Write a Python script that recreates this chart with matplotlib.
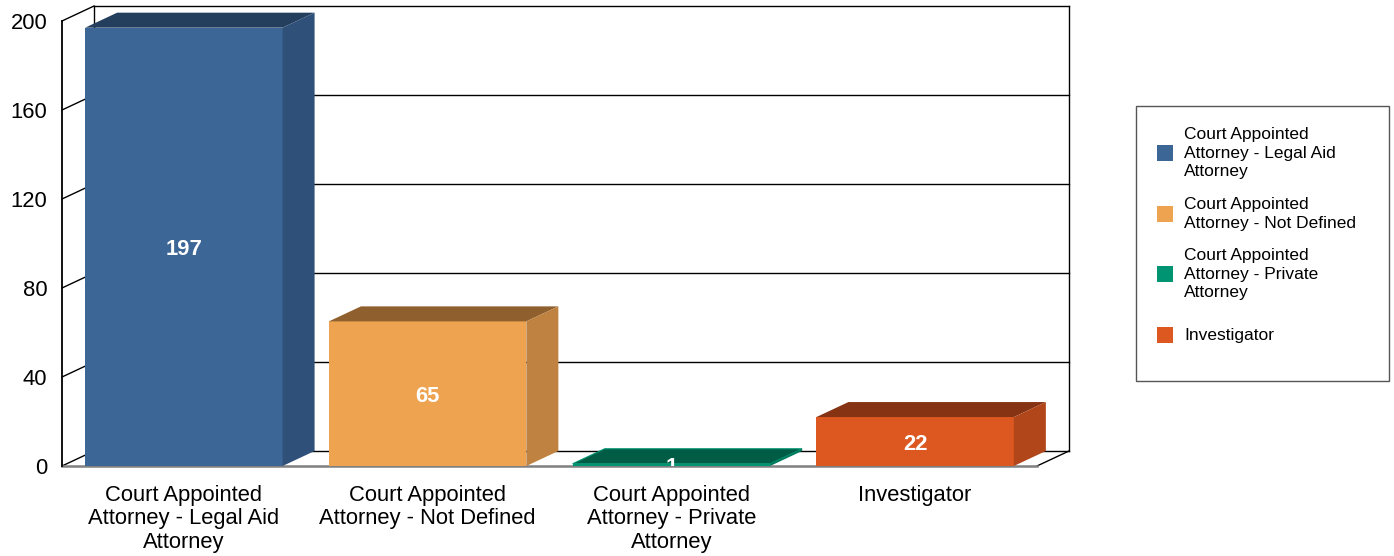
import matplotlib
matplotlib.use("Agg")
import matplotlib.pyplot as plt
from matplotlib.patches import Polygon, Rectangle

# ---- data ----
categories = ["Court Appointed\nAttorney - Legal Aid\nAttorney",
              "Court Appointed\nAttorney - Not Defined",
              "Court Appointed\nAttorney - Private\nAttorney",
              "Investigator"]
values = [197, 65, 1, 22]
front_colors = ["#3b6696", "#eea351", "#009472", "#dc5820"]
top_colors = ["#243e5e", "#8f602d", "#005c44", "#863314"]
side_colors = ["#2f5179", "#bf8240", "#007a5c", "#b0461a"]
y_ticks = [0, 40, 80, 120, 160, 200]

plt.rcParams['font.family'] = ['Liberation Sans', 'DejaVu Sans']

W, H = 1394, 556
fig = plt.figure(figsize=(W / 100, H / 100), dpi=100)
ax = fig.add_axes([62 / W, 90 / H, 975 / W, 445 / H])
n = len(categories)
ax.set_xlim(-0.5, n - 0.5)
ax.set_ylim(0, 200)
for s in ax.spines.values():
    s.set_visible(False)

# depth offset (pixels -> data units)
depth_px_x, depth_px_y = 32, 15
dx = depth_px_x / 975 * n
dy = depth_px_y / 445 * 200

x0, x1 = -0.5, n - 0.5
# back wall lines
for t in y_ticks:
    ax.plot([x0 + dx, x1 + dx], [t + dy, t + dy], color="black", lw=1, zorder=1, clip_on=False)
    ax.plot([x0, x0 + dx], [t, t + dy], color="black", lw=1, zorder=1, clip_on=False)
ax.plot([x0 + dx, x0 + dx], [dy, 200 + dy], color="black", lw=1, zorder=1, clip_on=False)
ax.plot([x1 + dx, x1 + dx], [dy, 200 + dy], color="black", lw=1, zorder=1, clip_on=False)
# floor
ax.plot([x1, x1 + dx], [0, dy], color="black", lw=1, zorder=1, clip_on=False)
ax.plot([x0, x1], [0, 0], color="#808080", lw=1.8, zorder=2, clip_on=False)
# front left axis
ax.plot([x0, x0], [0, 200], color="black", lw=1.3, zorder=2, clip_on=False)

bw = 0.81
for i, v in enumerate(values):
    l, r = i - bw / 2, i + bw / 2
    ax.add_patch(Rectangle((l, 0), bw, v, facecolor=front_colors[i], edgecolor="none", zorder=5, clip_on=False))
    ax.add_patch(Polygon([(l, v), (r, v), (r + dx, v + dy), (l + dx, v + dy)],
                         closed=True, facecolor=top_colors[i], edgecolor=front_colors[i] if v < 5 else "none",
                         lw=0.8, zorder=5, clip_on=False))
    ax.add_patch(Polygon([(r, 0), (r, v), (r + dx, v + dy), (r + dx, dy)],
                         closed=True, facecolor=side_colors[i], edgecolor="none", zorder=5, clip_on=False))
    ax.text(i, v / 2, str(v), color="white", fontsize=15.8, fontweight="bold",
            ha="center", va="center_baseline", zorder=6, clip_on=True)

ax.set_yticks(y_ticks)
ax.set_yticklabels([str(t) for t in y_ticks], fontsize=15.8)
ax.set_xticks(range(n))
ax.set_xticklabels(categories, fontsize=15.8, linespacing=1.17)
ax.tick_params(axis="y", length=0, pad=10.5)
ax.tick_params(axis="x", length=0, pad=13.5)

# ---- legend ----
lx0, ly0, lw_, lh_ = 1136, 106, 253, 275
fig.patches.append(Rectangle((lx0 / W, 1 - (ly0 + lh_) / H), lw_ / W, lh_ / H,
                             transform=fig.transFigure, facecolor="white",
                             edgecolor="#555555", lw=1))
first_c, step = 153, 60.7
for i, lab in enumerate(categories):
    cy = first_c + i * step
    fig.patches.append(Rectangle((1157 / W, 1 - (cy + 8) / H), 16 / W, 16 / H,
                                 transform=fig.transFigure, facecolor=front_colors[i], edgecolor="none"))
    fig.text(1184 / W, 1 - cy / H, lab, fontsize=12.5, ha="left", va="center", linespacing=1.3)

fig.savefig("out.png", dpi=100)
